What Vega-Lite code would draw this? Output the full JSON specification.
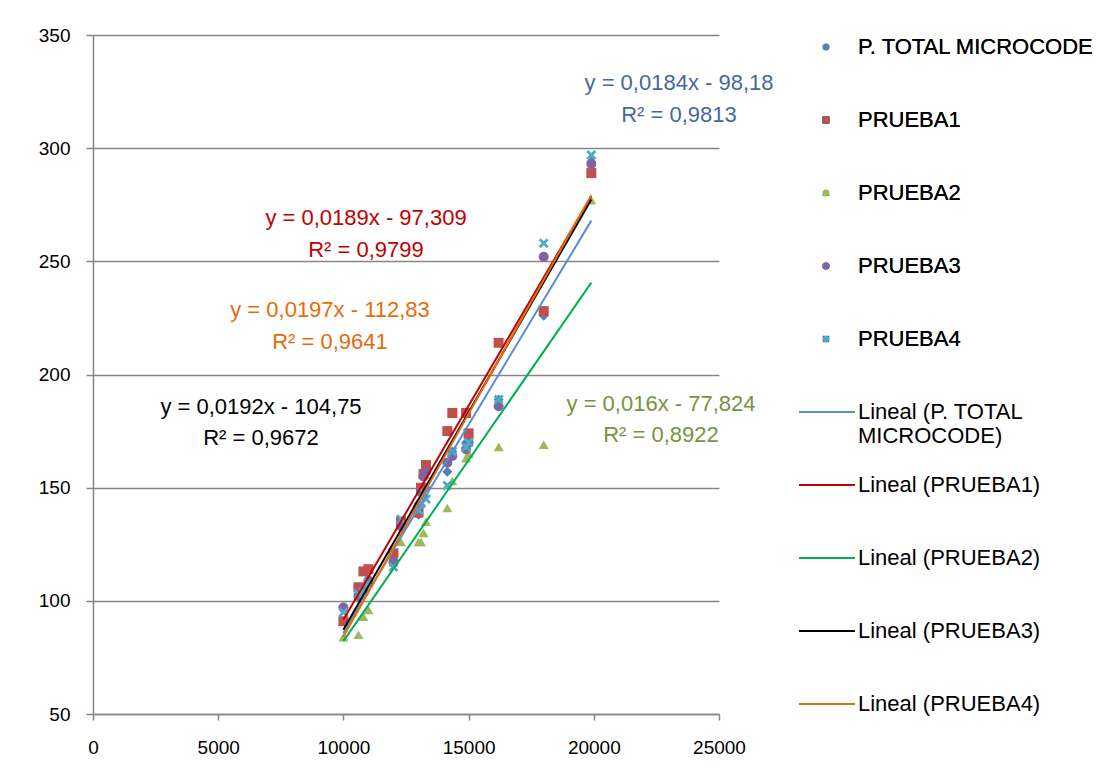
{
  "$schema": "https://vega.github.io/schema/vega-lite/v6.json",
  "width": 626,
  "height": 679,
  "autosize": {"type": "none"},
  "padding": {"left": 93, "top": 35, "right": 398, "bottom": 64},
  "background": "white",
  "config": {
    "view": {"stroke": null},
    "font": "Liberation Sans",
    "axis": {"labelFont": "Liberation Sans", "labelFontSize": 19, "labelColor": "#000000", "domainColor": "#868686", "tickColor": "#868686", "gridColor": "#868686", "domainWidth": 1.5, "tickWidth": 1.5, "gridWidth": 1.5, "title": null}
  },
  "datasets": {
    "pts": [
      {"series": "P. TOTAL MICROCODE", "x": 10000, "y": 97},
      {"series": "P. TOTAL MICROCODE", "x": 10600, "y": 103},
      {"series": "P. TOTAL MICROCODE", "x": 10800, "y": 106},
      {"series": "P. TOTAL MICROCODE", "x": 11000, "y": 108},
      {"series": "P. TOTAL MICROCODE", "x": 12000, "y": 118},
      {"series": "P. TOTAL MICROCODE", "x": 12300, "y": 134},
      {"series": "P. TOTAL MICROCODE", "x": 13000, "y": 138},
      {"series": "P. TOTAL MICROCODE", "x": 13100, "y": 142},
      {"series": "P. TOTAL MICROCODE", "x": 13200, "y": 146},
      {"series": "P. TOTAL MICROCODE", "x": 13300, "y": 150},
      {"series": "P. TOTAL MICROCODE", "x": 14150, "y": 157},
      {"series": "P. TOTAL MICROCODE", "x": 14350, "y": 166},
      {"series": "P. TOTAL MICROCODE", "x": 14900, "y": 170},
      {"series": "P. TOTAL MICROCODE", "x": 15000, "y": 172},
      {"series": "P. TOTAL MICROCODE", "x": 16200, "y": 189},
      {"series": "P. TOTAL MICROCODE", "x": 18000, "y": 226},
      {"series": "P. TOTAL MICROCODE", "x": 19900, "y": 294},
      {"series": "PRUEBA1", "x": 10000, "y": 91},
      {"series": "PRUEBA1", "x": 10600, "y": 106},
      {"series": "PRUEBA1", "x": 10800, "y": 113},
      {"series": "PRUEBA1", "x": 11000, "y": 114},
      {"series": "PRUEBA1", "x": 12000, "y": 121},
      {"series": "PRUEBA1", "x": 12300, "y": 135},
      {"series": "PRUEBA1", "x": 13000, "y": 139},
      {"series": "PRUEBA1", "x": 13100, "y": 150},
      {"series": "PRUEBA1", "x": 13200, "y": 156},
      {"series": "PRUEBA1", "x": 13300, "y": 160},
      {"series": "PRUEBA1", "x": 14150, "y": 175},
      {"series": "PRUEBA1", "x": 14350, "y": 183},
      {"series": "PRUEBA1", "x": 14900, "y": 183},
      {"series": "PRUEBA1", "x": 15000, "y": 174},
      {"series": "PRUEBA1", "x": 16200, "y": 214},
      {"series": "PRUEBA1", "x": 18000, "y": 228},
      {"series": "PRUEBA1", "x": 19900, "y": 289},
      {"series": "PRUEBA2", "x": 10000, "y": 84},
      {"series": "PRUEBA2", "x": 10600, "y": 85},
      {"series": "PRUEBA2", "x": 10800, "y": 93},
      {"series": "PRUEBA2", "x": 11000, "y": 96},
      {"series": "PRUEBA2", "x": 12000, "y": 117},
      {"series": "PRUEBA2", "x": 12300, "y": 126},
      {"series": "PRUEBA2", "x": 13000, "y": 126},
      {"series": "PRUEBA2", "x": 13100, "y": 126},
      {"series": "PRUEBA2", "x": 13200, "y": 130},
      {"series": "PRUEBA2", "x": 13300, "y": 135},
      {"series": "PRUEBA2", "x": 14150, "y": 141},
      {"series": "PRUEBA2", "x": 14350, "y": 153},
      {"series": "PRUEBA2", "x": 14900, "y": 163},
      {"series": "PRUEBA2", "x": 15000, "y": 165},
      {"series": "PRUEBA2", "x": 16200, "y": 168},
      {"series": "PRUEBA2", "x": 18000, "y": 169},
      {"series": "PRUEBA2", "x": 19900, "y": 277},
      {"series": "PRUEBA3", "x": 10000, "y": 97},
      {"series": "PRUEBA3", "x": 10600, "y": 102},
      {"series": "PRUEBA3", "x": 10800, "y": 105},
      {"series": "PRUEBA3", "x": 11000, "y": 109},
      {"series": "PRUEBA3", "x": 12000, "y": 117},
      {"series": "PRUEBA3", "x": 12300, "y": 133},
      {"series": "PRUEBA3", "x": 13000, "y": 142},
      {"series": "PRUEBA3", "x": 13100, "y": 148},
      {"series": "PRUEBA3", "x": 13200, "y": 155},
      {"series": "PRUEBA3", "x": 13300, "y": 157},
      {"series": "PRUEBA3", "x": 14150, "y": 161},
      {"series": "PRUEBA3", "x": 14350, "y": 164},
      {"series": "PRUEBA3", "x": 14900, "y": 167},
      {"series": "PRUEBA3", "x": 15000, "y": 170},
      {"series": "PRUEBA3", "x": 16200, "y": 186},
      {"series": "PRUEBA3", "x": 18000, "y": 252},
      {"series": "PRUEBA3", "x": 19900, "y": 293},
      {"series": "PRUEBA4", "x": 10000, "y": 95},
      {"series": "PRUEBA4", "x": 10600, "y": 103},
      {"series": "PRUEBA4", "x": 10800, "y": 104},
      {"series": "PRUEBA4", "x": 11000, "y": 108},
      {"series": "PRUEBA4", "x": 12000, "y": 115},
      {"series": "PRUEBA4", "x": 12300, "y": 136},
      {"series": "PRUEBA4", "x": 13000, "y": 140},
      {"series": "PRUEBA4", "x": 13100, "y": 143},
      {"series": "PRUEBA4", "x": 13200, "y": 148},
      {"series": "PRUEBA4", "x": 13300, "y": 145},
      {"series": "PRUEBA4", "x": 14150, "y": 151},
      {"series": "PRUEBA4", "x": 14350, "y": 166},
      {"series": "PRUEBA4", "x": 14900, "y": 168},
      {"series": "PRUEBA4", "x": 15000, "y": 170},
      {"series": "PRUEBA4", "x": 16200, "y": 189},
      {"series": "PRUEBA4", "x": 18000, "y": 258},
      {"series": "PRUEBA4", "x": 19900, "y": 297}
    ],
    "trend": [
      {"trend": "Lineal (P. TOTAL MICROCODE)", "x": 10000, "y": 85.82},
      {"trend": "Lineal (P. TOTAL MICROCODE)", "x": 19900, "y": 267.98},
      {"trend": "Lineal (PRUEBA1)", "x": 10000, "y": 91.69},
      {"trend": "Lineal (PRUEBA1)", "x": 19900, "y": 278.8},
      {"trend": "Lineal (PRUEBA2)", "x": 10000, "y": 82.18},
      {"trend": "Lineal (PRUEBA2)", "x": 19900, "y": 240.58},
      {"trend": "Lineal (PRUEBA3)", "x": 10000, "y": 87.25},
      {"trend": "Lineal (PRUEBA3)", "x": 19900, "y": 277.33},
      {"trend": "Lineal (PRUEBA4)", "x": 10000, "y": 84.17},
      {"trend": "Lineal (PRUEBA4)", "x": 19900, "y": 279.2}
    ],
    "notes": [
      {"text": "y = 0,0184x - 98,18", "x": 23403, "y": 328.8, "c": "blue"},
      {"text": "R² = 0,9813", "x": 23403, "y": 314.7, "c": "blue"},
      {"text": "y = 0,0189x - 97,309", "x": 10903, "y": 269.2, "c": "red"},
      {"text": "R² = 0,9799", "x": 10903, "y": 255.0, "c": "red"},
      {"text": "y = 0,0197x - 112,83", "x": 9465, "y": 228.5, "c": "orange"},
      {"text": "R² = 0,9641", "x": 9465, "y": 214.4, "c": "orange"},
      {"text": "y = 0,0192x - 104,75", "x": 6709, "y": 185.7, "c": "black"},
      {"text": "R² = 0,9672", "x": 6709, "y": 172.0, "c": "black"},
      {"text": "y = 0,016x - 77,824", "x": 22684, "y": 187.0, "c": "green"},
      {"text": "R² = 0,8922", "x": 22684, "y": 173.3, "c": "green"}
    ]
  },
  "layer": [
    {
      "data": {"name": "pts"},
      "mark": {"type": "point", "filled": true, "opacity": 1},
      "encoding": {
        "x": {"field": "x", "type": "quantitative", "scale": {"domain": [0, 25000], "nice": false, "zero": false},
              "axis": {"values": [0, 5000, 10000, 15000, 20000, 25000], "format": "d", "grid": false, "tickSize": 6, "labelPadding": 18, "labelFlush": false}},
        "y": {"field": "y", "type": "quantitative", "scale": {"domain": [50, 350], "nice": false, "zero": false},
              "axis": {"values": [50, 100, 150, 200, 250, 300, 350], "format": "d", "grid": true, "tickSize": 7, "labelPadding": 16}},
        "color": {"field": "series", "type": "nominal",
                  "scale": {"domain": ["P. TOTAL MICROCODE", "PRUEBA1", "PRUEBA2", "PRUEBA3", "PRUEBA4"],
                            "range": ["#4F81BD", "#C0504D", "#9BBB59", "#8064A2", "#4BACC6"]},
                  "legend": {"orient": "none", "legendX": 722, "legendY": 1, "title": null, "padding": 0,
                             "labelFont": "Liberation Sans", "labelFontSize": 22, "labelColor": "#000000",
                             "symbolSize": 50, "labelOffset": 21, "rowPadding": 51, "labelLimit": 320}},
        "shape": {"field": "series", "type": "nominal",
                  "scale": {"domain": ["P. TOTAL MICROCODE", "PRUEBA1", "PRUEBA2", "PRUEBA3", "PRUEBA4"],
                            "range": ["diamond", "square", "triangle-up", "circle", "M-1,-0.6L-0.6,-1L0,-0.4L0.6,-1L1,-0.6L0.4,0L1,0.6L0.6,1L0,0.4L-0.6,1L-1,0.6L-0.4,0Z"]},
                  "legend": {"orient": "none", "legendX": 722, "legendY": 1, "title": null, "padding": 0,
                             "labelFont": "Liberation Sans", "labelFontSize": 22, "labelColor": "#000000",
                             "symbolSize": 50, "labelOffset": 21, "rowPadding": 51, "labelLimit": 320}},
        "size": {"value": 100}
      }
    },
    {
      "data": {"name": "trend"},
      "mark": {"type": "line", "strokeWidth": 2},
      "encoding": {
        "x": {"field": "x", "type": "quantitative"},
        "y": {"field": "y", "type": "quantitative"},
        "detail": {"field": "trend"},
        "stroke": {"field": "trend", "type": "nominal",
                   "scale": {"domain": ["Lineal (P. TOTAL MICROCODE)", "Lineal (PRUEBA1)", "Lineal (PRUEBA2)", "Lineal (PRUEBA3)", "Lineal (PRUEBA4)"],
                             "range": ["#558ED5", "#C00000", "#00B050", "#000000", "#E46C0A"]},
                   "legend": {"orient": "none", "legendX": 705, "legendY": 348, "title": null, "padding": 0,
                              "labelFont": "Liberation Sans", "labelFontSize": 22, "labelColor": "#000000",
                              "symbolType": "stroke", "symbolSize": 3136, "symbolStrokeWidth": 2, "labelOffset": 2,
                              "rowPadding": 9, "labelLimit": 320,
                              "labelExpr": "datum.label == 'Lineal (P. TOTAL MICROCODE)' ? ['Lineal (P. TOTAL', 'MICROCODE)'] : [datum.label, ' ']"}}
      }
    },
    {
      "data": {"name": "notes"},
      "mark": {"type": "text", "font": "Liberation Sans", "fontSize": 22, "align": "center", "baseline": "middle"},
      "encoding": {
        "x": {"field": "x", "type": "quantitative"},
        "y": {"field": "y", "type": "quantitative"},
        "text": {"field": "text"},
        "color": {"field": "c", "type": "nominal", "legend": null,
                  "scale": {"domain": ["blue", "red", "orange", "black", "green"],
                            "range": ["#44699E", "#C00000", "#E46C0A", "#000000", "#77933C"]}}
      }
    }
  ],
  "resolve": {"scale": {"color": "independent"}}
}
